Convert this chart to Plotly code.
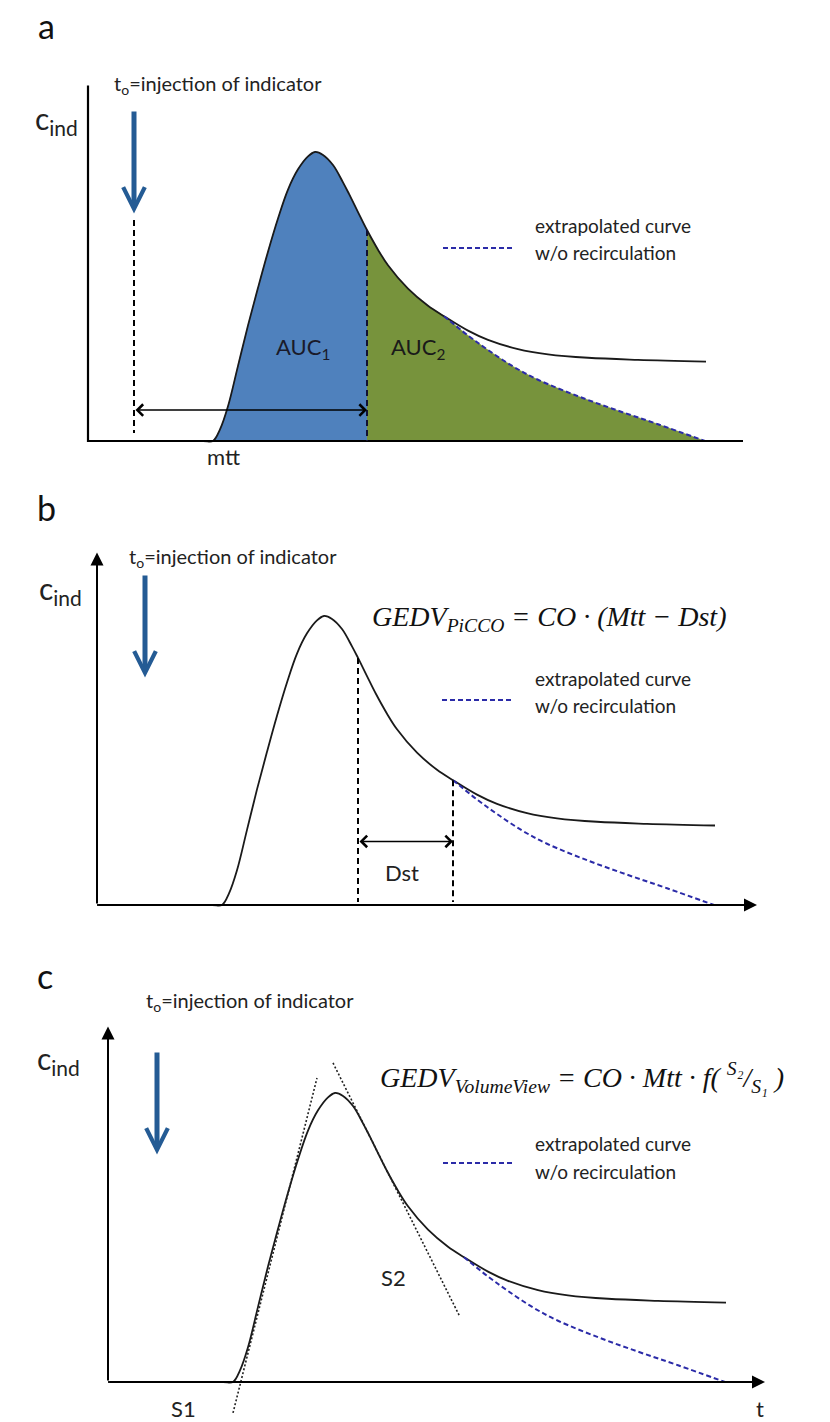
import plotly.graph_objects as go

FIG_W, FIG_H = 830, 1422
T_PX = 10.0    # pixels per time unit
C_PX = 289.0   # pixels per concentration unit (curve peak = 1)

# Indicator dilution curve: time (a.u.) and concentration (normalised to peak)
CURVE_T = [0, 6.0, 11.5, 12.5, 13.2, 14.0, 15.0, 16.0, 17.0, 18.0, 19.0, 20.0, 21.0, 22.0,
           22.7, 23.5, 24.5, 25.5, 26.1, 27.0, 27.9, 29.0, 30.0, 32.0, 34.0, 35.6, 38.0,
           40.0, 43.0, 46.0, 50.0, 55.0, 61.8]
CURVE_C = [0, 0, 0, 0, 0.04, 0.12, 0.26, 0.40, 0.53, 0.655, 0.77, 0.87, 0.94, 0.985,
           1.0, 0.99, 0.955, 0.895, 0.855, 0.792, 0.73, 0.662, 0.608, 0.527, 0.468, 0.432,
           0.382, 0.35, 0.318, 0.300, 0.288, 0.281, 0.275]

# Extrapolated decay without recirculation
EXTRAP_T = [35.6, 38.0, 40.0, 42.5, 45.0, 49.0, 53.0, 57.0, 61.7]
EXTRAP_C = [0.432, 0.365, 0.315, 0.258, 0.212, 0.155, 0.105, 0.058, 0.0]

MTT = 27.9                       # mean transit time
DST_START, DST_END = 26.1, 35.6  # downslope time
INJ_T = [4.6, 4.8, 4.9]          # injection marker per panel
INJ_TOP, INJ_TIP = 1.145, 0.787
MTT_ARROW_C = 0.107
DST_ARROW_C = 0.22
S1_T, S1_C = [12.5, 20.9], [-0.107, 1.052]
S2_T, S2_C = [22.5, 35.2], [1.104, 0.225]
AXIS_T_END = [65.5, 66.0, 65.7]
AXIS_C_END = [1.23, 1.22, 1.23]

# panel: letter, origin x px, origin y px, band top px, band bottom px
PANELS = [("a", 88, 441, 0, 470), ("b", 97, 905, 470, 945), ("c", 108, 1382, 945, 1422)]

FONT = "Lato"
TXT = "#222222"
CURVE_COL = "#1a1a1a"
EXT_COL = "#2b2ba8"
ARROW_COL = "#245b94"

fig = go.Figure()
layout = dict(width=FIG_W, height=FIG_H, margin=dict(l=0, r=0, t=0, b=0),
              paper_bgcolor="white", plot_bgcolor="white", showlegend=False)

annotations = []


def c_at(t):
    return CURVE_C[CURVE_T.index(t)]


for i, (letter, ox, oy, top, bot) in enumerate(PANELS):
    n = "" if i == 0 else str(i + 1)
    xa, ya = "x" + n, "y" + n
    layout["xaxis" + n] = dict(domain=[0, 1], range=[-ox / T_PX, (FIG_W - ox) / T_PX],
                               visible=False, fixedrange=True)
    layout["yaxis" + n] = dict(domain=[1 - bot / FIG_H, 1 - top / FIG_H],
                               range=[(oy - bot) / C_PX, (oy - top) / C_PX],
                               visible=False, fixedrange=True)
    kw = dict(xaxis=xa, yaxis=ya, hoverinfo="skip", cliponaxis=False)

    if letter == "a":
        # AUC1 (up to mtt) and AUC2 (after mtt, bounded by extrapolation)
        t1 = [t for t in CURVE_T if 12.5 <= t <= MTT]
        c1 = [c_at(t) for t in t1]
        fig.add_trace(go.Scatter(x=t1, y=c1, mode="lines", line=dict(width=0.5, color="#4f81bd", shape="spline"),
                                 fill="tozeroy", fillcolor="#4f81bd", **kw))
        t2 = [t for t in CURVE_T if MTT <= t < DST_END] + EXTRAP_T
        c2 = [c_at(t) for t in CURVE_T if MTT <= t < DST_END] + EXTRAP_C
        fig.add_trace(go.Scatter(x=t2, y=c2, mode="lines", line=dict(width=0.5, color="#77933c", shape="spline"),
                                 fill="tozeroy", fillcolor="#77933c", **kw))

    # main curve
    fig.add_trace(go.Scatter(x=CURVE_T, y=CURVE_C, mode="lines",
                             line=dict(color=CURVE_COL, width=1.8, shape="spline"), **kw))
    # extrapolated curve
    fig.add_trace(go.Scatter(x=EXTRAP_T, y=EXTRAP_C, mode="lines",
                             line=dict(color=EXT_COL, width=2, dash="5px,3px", shape="spline"), **kw))

    # axes
    if letter == "a":
        fig.add_trace(go.Scatter(x=[0, 0, AXIS_T_END[i]], y=[AXIS_C_END[i], 0, 0], mode="lines",
                                 line=dict(color="black", width=2.2), **kw))
    else:
        for (hx, hy) in [(AXIS_T_END[i], 0), (0, AXIS_C_END[i])]:
            annotations.append(dict(x=hx, y=hy, ax=0, ay=0, xref=xa, yref=ya, axref=xa, ayref=ya,
                                    text="", showarrow=True, arrowhead=2, arrowsize=1.3,
                                    arrowwidth=2, arrowcolor="black", standoff=0, startstandoff=0))

    # injection arrow
    annotations.append(dict(x=INJ_T[i], y=INJ_TIP, ax=INJ_T[i], ay=INJ_TOP, xref=xa, yref=ya,
                            axref=xa, ayref=ya, text="", showarrow=True, arrowhead=5,
                            arrowsize=0.85, arrowwidth=5, arrowcolor=ARROW_COL, standoff=0))

    if letter == "a":
        fig.add_trace(go.Scatter(x=[INJ_T[i], INJ_T[i]], y=[0.765, 0.028], mode="lines",
                                 line=dict(color="black", width=2, dash="6px,4px"), **kw))
        fig.add_trace(go.Scatter(x=[MTT, MTT], y=[c_at(MTT), 0], mode="lines",
                                 line=dict(color="#111133", width=2, dash="6px,4px"), **kw))
        annotations.append(dict(x=MTT, y=MTT_ARROW_C, ax=INJ_T[i], ay=MTT_ARROW_C, xref=xa, yref=ya,
                                axref=xa, ayref=ya, text="", showarrow=True, arrowhead=4,
                                startarrowhead=4, arrowside="end+start", arrowsize=1.5,
                                startarrowsize=1.5, arrowwidth=1.5, arrowcolor="black",
                                standoff=0, startstandoff=0))
        annotations.append(dict(x=21.5, y=0.322, xref=xa, yref=ya, text="AUC<sub>1</sub>",
                                showarrow=False, font=dict(family=FONT, size=22, color="#1a1a2a")))
        annotations.append(dict(x=33.0, y=0.322, xref=xa, yref=ya, text="AUC<sub>2</sub>",
                                showarrow=False, font=dict(family=FONT, size=22, color="#1a1a1a")))
        annotations.append(dict(x=13.5, y=-0.055, xref=xa, yref=ya, text="mtt",
                                showarrow=False, font=dict(family=FONT, size=22, color=TXT)))

    if letter == "b":
        for t in (DST_START, DST_END):
            fig.add_trace(go.Scatter(x=[t, t], y=[c_at(t), 0.01], mode="lines",
                                     line=dict(color="black", width=2, dash="6px,4px"), **kw))
        annotations.append(dict(x=DST_END, y=DST_ARROW_C, ax=DST_START, ay=DST_ARROW_C, xref=xa,
                                yref=ya, axref=xa, ayref=ya, text="", showarrow=True, arrowhead=4,
                                startarrowhead=4, arrowside="end+start", arrowsize=1.5,
                                startarrowsize=1.5, arrowwidth=1.5, arrowcolor="black",
                                standoff=0, startstandoff=0))
        annotations.append(dict(x=(DST_START + DST_END) / 2 - 0.4, y=0.111, xref=xa, yref=ya, text="Dst",
                                showarrow=False, font=dict(family=FONT, size=22, color=TXT)))
        annotations.append(dict(x=27.3, y=0.993, xref=xa, yref=ya, xanchor="left",
                                text="<i>GEDV<sub>PiCCO</sub> = CO · (Mtt − Dst)</i>",
                                showarrow=False,
                                font=dict(family="Liberation Serif", size=28, color="#111111")))

    if letter == "c":
        for tt, cc in ((S1_T, S1_C), (S2_T, S2_C)):
            fig.add_trace(go.Scatter(x=tt, y=cc, mode="lines",
                                     line=dict(color="#222222", width=1.6, dash="2px,2px"), **kw))
        annotations.append(dict(x=7.5, y=-0.09, xref=xa, yref=ya, text="S1",
                                showarrow=False, font=dict(family=FONT, size=22, color=TXT)))
        annotations.append(dict(x=28.5, y=0.36, xref=xa, yref=ya, text="S2",
                                showarrow=False, font=dict(family=FONT, size=22, color=TXT)))
        annotations.append(dict(x=65.2, y=-0.09, xref=xa, yref=ya, text="t",
                                showarrow=False, font=dict(family=FONT, size=22, color=TXT)))
        annotations.append(dict(x=27.0, y=1.055, xref=xa, yref=ya, xanchor="left",
                                text="<i>GEDV<sub>VolumeView</sub> = CO · Mtt · f( <sup>S₂</sup>/<sub>S₁</sub> )</i>",
                                showarrow=False,
                                font=dict(family="Liberation Serif", size=28, color="#111111")))

    # shared labels per panel
    letter_pos = {"a": (-4.2, 1.439), "b": (-5.1, 1.377), "c": (-6.3, 1.405)}[letter]
    annotations.append(dict(x=letter_pos[0], y=letter_pos[1], xref=xa, yref=ya, text=letter,
                            showarrow=False, font=dict(family=FONT, size=34, color="#111111")))
    cind_pos = {"a": (-5.5, 1.111), "b": (-6.0, 1.09), "c": (-7.3, 1.114)}[letter]
    annotations.append(dict(x=cind_pos[0], y=cind_pos[1], xref=xa, yref=ya, xanchor="left",
                            text="c<sub>ind</sub>", showarrow=False,
                            font=dict(family=FONT, size=30, color=TXT)))
    inj_pos = {"a": (2.4, 1.232), "b": (3.0, 1.204), "c": (3.6, 1.315)}[letter]
    annotations.append(dict(x=inj_pos[0], y=inj_pos[1], xref=xa, yref=ya, xanchor="left",
                            text="t<sub>o</sub>=injection of indicator", showarrow=False,
                            font=dict(family=FONT, size=20, color=TXT)))

    # legend for the extrapolated curve
    leg = {"a": (35.5, 42.4, 0.668, 44.5, 0.747, 0.651),
           "b": (34.5, 41.5, 0.709, 43.6, 0.785, 0.692),
           "c": (33.5, 40.4, 0.758, 42.5, 0.827, 0.727)}[letter]
    fig.add_trace(go.Scatter(x=[leg[0], leg[1]], y=[leg[2], leg[2]], mode="lines",
                             line=dict(color=EXT_COL, width=2, dash="5px,3px"), **kw))
    annotations.append(dict(x=leg[3], y=leg[4], xref=xa, yref=ya, xanchor="left",
                            text="extrapolated curve", showarrow=False,
                            font=dict(family=FONT, size=19, color=TXT)))
    annotations.append(dict(x=leg[3], y=leg[5], xref=xa, yref=ya, xanchor="left",
                            text="w/o recirculation", showarrow=False,
                            font=dict(family=FONT, size=19, color=TXT)))

layout["annotations"] = annotations
fig.update_layout(**layout)
fig.write_html("out.html")
